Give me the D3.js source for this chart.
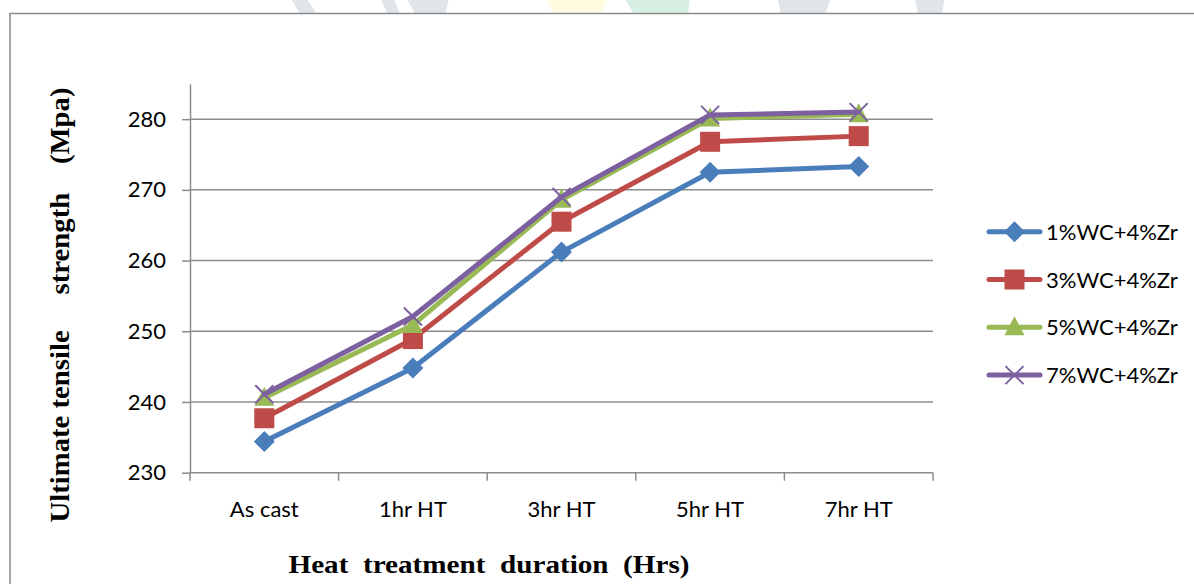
<!DOCTYPE html>
<html>
<head>
<meta charset="utf-8">
<script src="https://cdn.jsdelivr.net/npm/d3@7/dist/d3.min.js"></script>
<style>
  html, body { margin: 0; padding: 0; background: #fff; }
  svg { display: block; }
  text { white-space: pre; }
</style>
</head>
<body>
<svg id="chart" width="1194" height="584"></svg>
<script>
// Heat-treatment categories and ultimate tensile strength (MPa) per composition
const categories = ["As cast", "1hr HT", "3hr HT", "5hr HT", "7hr HT"];
const seriesNames = ["1%WC+4%Zr", "3%WC+4%Zr", "5%WC+4%Zr", "7%WC+4%Zr"];
const wc1 = [234.4, 244.8, 261.2, 272.5, 273.3];
const wc3 = [237.7, 248.9, 265.5, 276.8, 277.6];
const wc5 = [240.6, 250.9, 268.6, 280.1, 280.7];
const wc7 = [241.1, 252.1, 269.0, 280.6, 281.0];
const yTicks = [230, 240, 250, 260, 270, 280];

const colors = ["#4a7ebb", "#be4b48", "#98b954", "#7d60a0"];
const symbols = ["diamond", "square", "triangle", "cross"];
const series = [wc1, wc3, wc5, wc7].map((values, i) => ({
  name: seriesNames[i], values, color: colors[i], symbol: symbols[i]
}));

const labelFont = "Lato, 'Open Sans', sans-serif";
const titleFont = "'Liberation Serif', 'Times New Roman', serif";

const svg = d3.select("#chart");

// faint page watermark peeking above the chart frame
const wm = svg.append("g");
const wmShapes = [
  { pts: [[289, -5], [304, -5], [317, 14], [300, 14]], fill: "#dfe5e8" },
  { pts: [[378, -5], [392, -5], [400, 14], [388, 14]], fill: "#dfe5e8" },
  { pts: [[405, -5], [450, -5], [445, 14], [415, 14]], fill: "#dfe5e8" },
  { pts: [[545, -5], [610, -5], [600, 14], [553, 14]], fill: "#fffbe0" },
  { pts: [[622, -5], [690, -5], [688, 14], [634, 14]], fill: "#d8f0e3" },
  { pts: [[777, -5], [832, -5], [825, 14], [781, 14]], fill: "#dfe5e8" },
  { pts: [[914, -5], [945, -5], [942, 14], [918, 14]], fill: "#dfe5e8" }
];
wm.selectAll("polygon").data(wmShapes).join("polygon")
  .attr("points", d => d.pts.map(p => p.join(",")).join(" "))
  .attr("fill", d => d.fill);

// chart frame
svg.append("rect")
  .attr("x", 10).attr("y", 13.5)
  .attr("width", 1200).attr("height", 600)
  .attr("fill", "#fff")
  .attr("stroke", "#8a8a8a").attr("stroke-width", 1.5);

const plot = { left: 190, right: 933, top: 83.8, bottom: 472.7 };

const x = d3.scaleBand().domain(categories)
  .range([plot.left, plot.right]).paddingInner(0).paddingOuter(0);
const y = d3.scaleLinear().domain([230, 285]).range([plot.bottom, plot.top]);

const gridColor = "#8c8c8c";

// horizontal gridlines
svg.append("g").selectAll("line").data(yTicks.slice(1)).join("line")
  .attr("x1", plot.left).attr("x2", plot.right)
  .attr("y1", d => y(d)).attr("y2", d => y(d))
  .attr("stroke", gridColor).attr("stroke-width", 1.5);

// y axis
const yAxis = svg.append("g")
  .attr("transform", `translate(${plot.left},0)`)
  .call(d3.axisLeft(y).tickValues(yTicks).tickSize(8).tickPadding(16).tickSizeOuter(0));
yAxis.select(".domain").attr("stroke", gridColor).attr("stroke-width", 1.5);
yAxis.selectAll(".tick line").attr("stroke", gridColor).attr("stroke-width", 1.5);
yAxis.selectAll(".tick text")
  .attr("font-family", labelFont)
  .attr("font-size", 22).attr("fill", "#000");

// x axis with tick marks at category boundaries
const xAxis = svg.append("g")
  .attr("transform", `translate(0,${plot.bottom})`);
xAxis.append("line")
  .attr("x1", plot.left).attr("x2", plot.right)
  .attr("stroke", gridColor).attr("stroke-width", 1.5);
const boundaries = categories.map(c => x(c)).concat([x(categories[categories.length - 1]) + x.bandwidth()]);
xAxis.selectAll("line.tk").data(boundaries).join("line")
  .attr("class", "tk")
  .attr("x1", d => d).attr("x2", d => d)
  .attr("y1", 0).attr("y2", 8)
  .attr("stroke", gridColor).attr("stroke-width", 1.5);
xAxis.selectAll("text").data(categories).join("text")
  .attr("x", d => x(d) + x.bandwidth() / 2)
  .attr("y", 44)
  .attr("text-anchor", "middle")
  .attr("font-family", labelFont)
  .attr("font-size", 22).attr("fill", "#000")
  .text(d => d);

// axis titles
svg.append("text")
  .attr("x", 489).attr("y", 573)
  .attr("text-anchor", "middle")
  .attr("font-family", titleFont)
  .attr("font-weight", "bold").attr("font-size", 26)
  .attr("textLength", 401).attr("lengthAdjust", "spacingAndGlyphs")
  .text("Heat  treatment  duration  (Hrs)");

svg.append("text")
  .attr("transform", "translate(69,305) rotate(-90)")
  .attr("text-anchor", "middle")
  .attr("font-family", titleFont)
  .attr("font-weight", "bold").attr("font-size", 27)
  .attr("textLength", 435).attr("lengthAdjust", "spacingAndGlyphs")
  .text("Ultimate tensile     strength    (Mpa)");

// marker drawing
function drawMarker(g, symbol, color, cx, cy) {
  if (symbol === "diamond") {
    g.append("path")
      .attr("d", `M${cx},${cy - 10.5}L${cx + 10.5},${cy}L${cx},${cy + 10.5}L${cx - 10.5},${cy}Z`)
      .attr("fill", color);
  } else if (symbol === "square") {
    g.append("rect")
      .attr("x", cx - 10).attr("y", cy - 10)
      .attr("width", 20).attr("height", 20)
      .attr("fill", color);
  } else if (symbol === "triangle") {
    g.append("path")
      .attr("d", `M${cx},${cy - 11}L${cx + 10},${cy + 8}L${cx - 10},${cy + 8}Z`)
      .attr("fill", color);
  } else {
    g.append("path")
      .attr("d", `M${cx - 9},${cy - 9}L${cx + 9},${cy + 9}M${cx - 9},${cy + 9}L${cx + 9},${cy - 9}`)
      .attr("stroke", color).attr("stroke-width", 2).attr("fill", "none");
  }
}

const line = d3.line()
  .x((d, i) => x(categories[i]) + x.bandwidth() / 2)
  .y(d => y(d));

const marks = svg.append("g");
series.forEach(s => {
  const g = marks.append("g");
  g.append("path")
    .datum(s.values)
    .attr("d", line)
    .attr("fill", "none")
    .attr("stroke", s.color)
    .attr("stroke-width", 5)
    .attr("stroke-linejoin", "round")
    .attr("stroke-linecap", "round");
  s.values.forEach((v, i) => {
    drawMarker(g, s.symbol, s.color, x(categories[i]) + x.bandwidth() / 2, y(v));
  });
});

// legend
const legend = svg.append("g");
series.forEach((s, i) => {
  const ly = 231.7 + i * 47.8;
  const g = legend.append("g");
  g.append("line")
    .attr("x1", 989).attr("x2", 1040)
    .attr("y1", ly).attr("y2", ly)
    .attr("stroke", s.color).attr("stroke-width", 5)
    .attr("stroke-linecap", "round");
  drawMarker(g, s.symbol, s.color, 1014.5, ly);
  g.append("text")
    .attr("x", 1046).attr("y", ly + 8)
    .attr("font-family", labelFont)
    .attr("font-size", 22).attr("fill", "#000")
    .text(s.name);
});
</script>
</body>
</html>
